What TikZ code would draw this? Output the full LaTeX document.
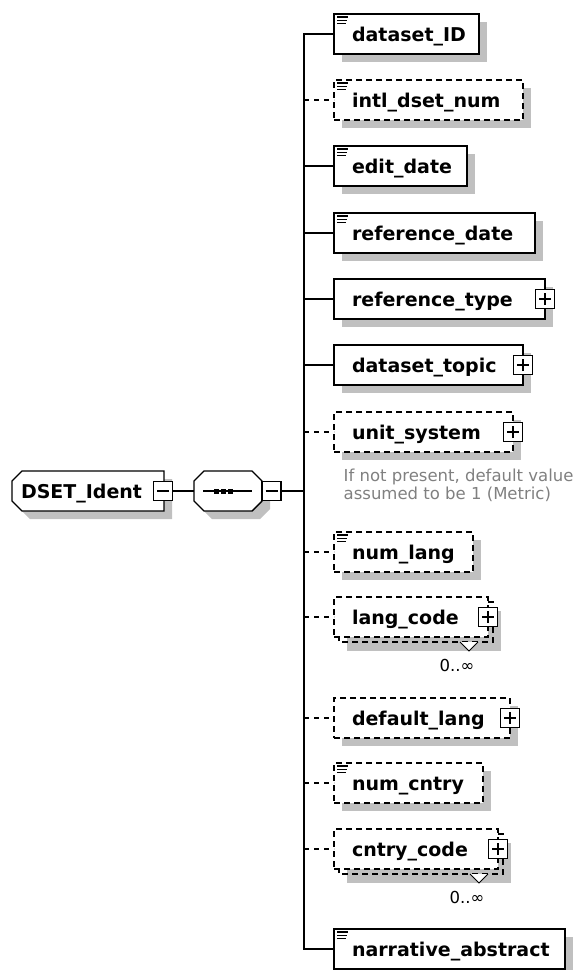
\documentclass[tikz,border=0pt]{standalone}
\usepackage{fontspec}
\setmainfont{DejaVu Sans}
\usetikzlibrary{shadows,backgrounds}
\definecolor{ink}{HTML}{000000}
\definecolor{shade}{HTML}{C0C0C0}
\definecolor{notegray}{HTML}{808080}
\hyphenpenalty=10000

\tikzset{
  boxbase/.style={rectangle,minimum height=40pt,inner ysep=0pt,outer sep=0pt,
    text height=14pt,text depth=0pt,align=left,font=\fontsize{19}{22}\selectfont\bfseries},
  shade8/.style={drop shadow={shadow xshift=8pt,shadow yshift=-8pt,fill=shade,opacity=1}},
  elem/.style={boxbase,draw=ink,fill=white,shade8,anchor=west,inner xsep=18pt},
  optelem/.style={elem,dash pattern=on 6pt off 4pt},
  multelem/.style={boxbase,draw=ink,fill=white,anchor=west,inner xsep=18pt,dash pattern=on 6pt off 4pt,
    drop shadow={shadow xshift=13pt,shadow yshift=-14pt,fill=shade,opacity=1}},
  rootelem/.style={boxbase,inner xsep=9pt},
  compositor/.style={boxbase,minimum width=68pt,inner sep=0pt},
  outline/.style={draw=ink,fill=white,line width=1.4pt,shade8},
  expander/.style={draw=ink,fill=white,rectangle,minimum size=19pt,inner sep=0pt,outer sep=0pt,line width=1.2pt},
  plusbox/.style={expander,path picture={\draw[line width=1.2pt]
    ([xshift=-6pt]path picture bounding box.center) -- ([xshift=6pt]path picture bounding box.center)
    ([yshift=-6pt]path picture bounding box.center) -- ([yshift=6pt]path picture bounding box.center);}},
  minusbox/.style={expander,path picture={\draw[line width=1.2pt]
    ([xshift=-6pt]path picture bounding box.center) -- ([xshift=6pt]path picture bounding box.center);}},
  dashline/.style={dash pattern=on 5pt off 5pt},
  smalltext/.style={font=\fontsize{16.5}{18}\selectfont,inner sep=0pt}
}

\begin{document}
\begin{tikzpicture}[x=1pt,y=-1pt,every path/.style={line width=1.4pt}]
\useasboundingbox (0,0) rectangle (576,970);
% root element and its sequence
\node[rootelem,text width=134pt] (dset) at (88,491) {DSET\_Ident};
\node[compositor] (seq) at (228,491) {};
\begin{pgfonlayer}{background}
\path[outline] ([shift={(10,0)}]dset.north west) -- (dset.north east) -- (dset.south east)
  -- ([shift={(10,0)}]dset.south west) -- ([shift={(0,-10)}]dset.south west)
  -- ([shift={(0,10)}]dset.north west) -- cycle;
\path[outline] ([shift={(10,0)}]seq.north west) -- ([shift={(-10,0)}]seq.north east)
  -- ([shift={(0,10)}]seq.north east) -- ([shift={(0,-10)}]seq.south east)
  -- ([shift={(-10,0)}]seq.south east) -- ([shift={(10,0)}]seq.south west)
  -- ([shift={(0,-10)}]seq.south west) -- ([shift={(0,10)}]seq.north west) -- cycle;
\end{pgfonlayer}
\draw ([xshift=-25pt]seq.center) -- ([xshift=24pt]seq.center);
\foreach \d in {-12,-5,2}
  \fill ([shift={(\d-2.5,-2.5)}]seq.center) rectangle ++(5,5);
\node[minusbox] (dset-x) at ([xshift=-1pt]dset.east) {};
\node[minusbox,anchor=west] (seq-x) at (seq.east) {};

% child elements
\node[elem,text width=109pt] (datasetID) at (334,34) {dataset\_ID};
\node[optelem,text width=153pt] (intlnum) at (334,100) {intl\_dset\_num};
\node[elem,text width=97pt] (editdate) at (334,166) {edit\_date};
\node[elem,text width=165pt] (refdate) at (334,233) {reference\_date};
\node[elem,text width=175pt] (reftype) at (334,299) {reference\_type};
\node[elem,text width=153pt] (topic) at (334,365) {dataset\_topic};
\node[optelem,text width=143pt] (units) at (334,432) {unit\_system};
\node[optelem,text width=103pt] (numlang) at (334,552) {num\_lang};
\node[multelem,text width=118pt] (langcode) at (334,617) {lang\_code};
\node[optelem,text width=140pt] (deflang) at (334,718) {default\_lang};
\node[optelem,text width=113pt] (numcntry) at (334,783) {num\_cntry};
\node[multelem,text width=128pt] (cntrycode) at (334,849) {cntry\_code};
\node[elem,text width=195pt] (abstract) at (334,949) {narrative\_abstract};

% simple type marks
\foreach \n in {datasetID,intlnum,editdate,refdate,numlang,numcntry,abstract}
  \draw[line width=1.2pt] ([shift={(3,3)}]\n.north west) -- ++(11,0)
    ([shift={(3,6.3)}]\n.north west) -- ++(10,0) ([shift={(3,9.6)}]\n.north west) -- ++(9,0);

% repeated elements
\foreach \n in {langcode,cntrycode}{
  \draw[dash pattern=on 6pt off 4pt] ([shift={(0,5)}]\n.north east) -- ++(5,0)
    -- ([shift={(5,5)}]\n.south east) -- ([shift={(5,5)}]\n.south west) -- ++(0,-5);
  \filldraw[fill=white,line width=1pt] ([shift={(-28,5)}]\n.south east) -- ++(9,9) -- ++(9,-9);
  \node[smalltext] (\n-occ) at ([shift={(-31,28)}]\n.south east) {0..∞};
}

% expanders
\foreach \n in {reftype,topic,units,langcode,deflang,cntrycode}
  \node[plusbox] (\n-x) at (\n.east) {};

\node[smalltext,text=notegray,align=left,anchor=north west] (unitnote)
  at ([shift={(9,16)}]units.south west) {If not present, default value\\assumed to be 1 (Metric)};

% connectors
\coordinate (trunk) at (304,491);
\draw (dset-x.east) -- (seq.west);
\draw (seq-x.east) -- (trunk);
\draw (datasetID.west) -| (trunk) |- (abstract.west);
\foreach \n in {editdate,refdate,reftype,topic}
  \draw (trunk |- \n.west) -- (\n.west);
\foreach \n in {intlnum,units,numlang,langcode,deflang,numcntry,cntrycode}
  \draw[dashline] (trunk |- \n.west) -- (\n.west);
\end{tikzpicture}
\end{document}
